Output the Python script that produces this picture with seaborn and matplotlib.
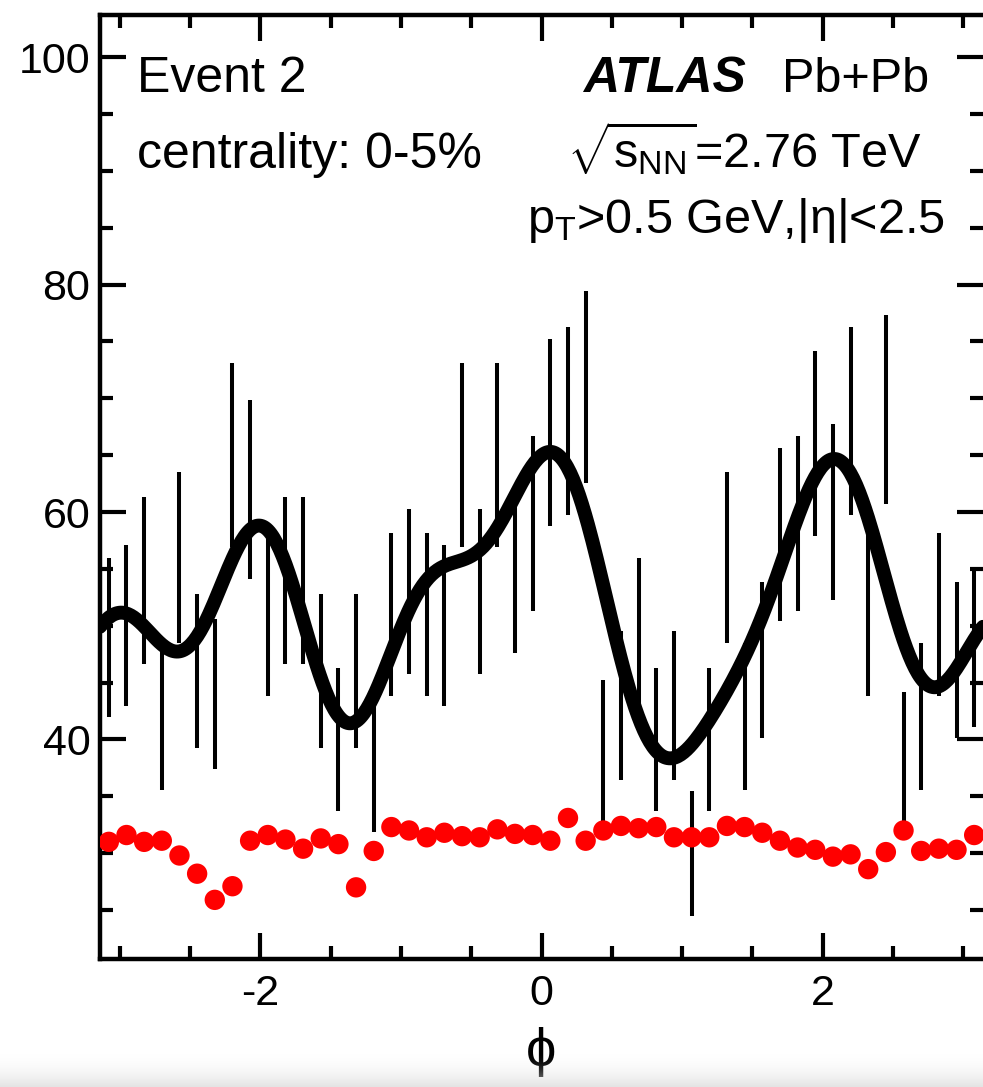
import numpy as np
import matplotlib
matplotlib.use("Agg")
import matplotlib.pyplot as plt
from matplotlib.ticker import MultipleLocator
import seaborn as sns

# ---- data -----------------------------------------------------------------
n_bins = 50
# charged-particle counts per phi bin (black points, Poisson errors)
counts = [49, 50, 54, 42, 56, 46, 44, 65, 62, 51,
          54, 54, 46, 40, 46, 38, 51, 53, 51, 50,
          65, 53, 65, 55, 59, 67, 68, 71, 39, 43,
          49, 40, 43, 30, 40, 56, 42, 47, 58, 59,
          66, 60, 68, 51, 69, 38, 42, 51, 47, 48]
# per-bin efficiency weight (red points, arbitrary units)
eff_weight = [31.0, 31.6, 31.0, 31.1, 29.8, 28.2, 25.9, 27.1, 31.1, 31.6,
              31.2, 30.4, 31.3, 30.8, 27.0, 30.2, 32.3, 32.0, 31.4, 31.8,
              31.5, 31.4, 32.1, 31.7, 31.6, 31.1, 33.1, 31.1, 32.0, 32.4,
              32.2, 32.3, 31.4, 31.4, 31.4, 32.4, 32.3, 31.8, 31.1, 30.5,
              30.3, 29.7, 29.9, 28.6, 30.1, 32.0, 30.2, 30.4, 30.3, 31.6]
n_harmonics = 6

x_ticks = [-2, 0, 2]
y_ticks = [40, 60, 80, 100]

# ---- style ----------------------------------------------------------------
sns.set_theme(style="ticks")
plt.rcParams["font.family"] = ["Liberation Sans", "DejaVu Sans"]
plt.rcParams["mathtext.fontset"] = "custom"
plt.rcParams["mathtext.rm"] = "Liberation Sans"
plt.rcParams["mathtext.it"] = "Liberation Sans"
plt.rcParams["mathtext.bf"] = "Liberation Sans:bold"
plt.rcParams["axes.unicode_minus"] = False

W, H = 983, 1087
fig = plt.figure(figsize=(W / 100, H / 100), dpi=100)
fig.patch.set_facecolor("white")

x0, x1 = 100, 983
y_top, y_bot = 15, 959
ax = fig.add_axes([x0 / W, (H - y_bot) / H, (x1 - x0) / W, (y_bot - y_top) / H])
ax.set_facecolor("white")

edges = np.linspace(-np.pi, np.pi, n_bins + 1)
phi = 0.5 * (edges[:-1] + edges[1:])
cnt = np.asarray(counts, dtype=float)

# Fourier decomposition of the distribution up to n_harmonics
grid = np.linspace(-np.pi, np.pi, 600)
fit = np.full_like(grid, cnt.mean())
for n in range(1, n_harmonics + 1):
    a_n = 2.0 * np.mean(cnt * np.cos(n * phi))
    b_n = 2.0 * np.mean(cnt * np.sin(n * phi))
    fit += a_n * np.cos(n * grid) + b_n * np.sin(n * grid)

ax.errorbar(phi, cnt, yerr=np.sqrt(cnt), fmt="none", ecolor="black",
            elinewidth=2.9, capsize=0, zorder=2)
sns.lineplot(x=grid, y=fit, ax=ax, color="black", linewidth=10,
             sort=False, zorder=3)
sns.scatterplot(x=phi, y=eff_weight, ax=ax, color="#ff0000", s=215,
                edgecolor="none", linewidth=0, zorder=4)

ax.set_xlim(-np.pi, np.pi)
ax.set_ylim(20.7, 103.7)
ax.set_xticks(x_ticks)
ax.set_yticks(y_ticks)
ax.xaxis.set_minor_locator(MultipleLocator(0.5))
ax.yaxis.set_minor_locator(MultipleLocator(5))
ax.tick_params(which="both", direction="in", top=True, right=True,
               width=3.0, color="black", labelsize=31, labelcolor="black")
ax.tick_params(which="major", length=18.7)
ax.tick_params(which="minor", length=9.4)
ax.tick_params(axis="y", pad=7)
ax.tick_params(axis="x", pad=11)
for side in ["left", "bottom", "top"]:
    ax.spines[side].set_linewidth(3.2)
    ax.spines[side].set_color("black")
ax.spines["right"].set_visible(False)

ax.set_xlabel("\u03d5", fontsize=39, color="black")
ax.xaxis.set_label_coords(0.5, -(1027 - y_bot) / (y_bot - y_top))
ax.xaxis.label.set_verticalalignment("top")
ax.set_ylabel("")


def px_text(x, y, s, **kw):
    fig.text(x / W, 1 - y / H, s, va="baseline", color="black", **kw)


px_text(137, 92, "Event 2", fontsize=36)
px_text(137, 168, "centrality: 0-5%", fontsize=36)
px_text(583, 92, "ATLAS", fontsize=36, fontweight="bold", fontstyle="italic")
px_text(782, 92, "Pb+Pb", fontsize=35)
fig.text(922 / W, 1 - 167 / H, r"$\sqrt{s_{NN}}$=2.76 TeV", ha="right",
         va="baseline", fontsize=35, color="black")
fig.text(945 / W, 1 - 233 / H, "$p_{T}$>0.5 GeV,|\u03b7|<2.5", ha="right",
         va="baseline", fontsize=35, color="black")

# faint grey shading fading in along the bottom edge
shade_h = 36
shade = fig.add_axes([0, 0, 1, shade_h / H], zorder=10)
ramp = np.linspace(0.0, 1.0, 64) ** 2.0
rgba = np.zeros((64, 2, 4))
rgba[..., :3] = 0.86
rgba[..., 3] = 0.75 * ramp[:, None]
shade.imshow(rgba, aspect="auto", origin="upper", extent=[0, 1, 0, 1],
             interpolation="bilinear")
shade.set_axis_off()

fig.savefig("out.png", dpi=100, facecolor="white")
